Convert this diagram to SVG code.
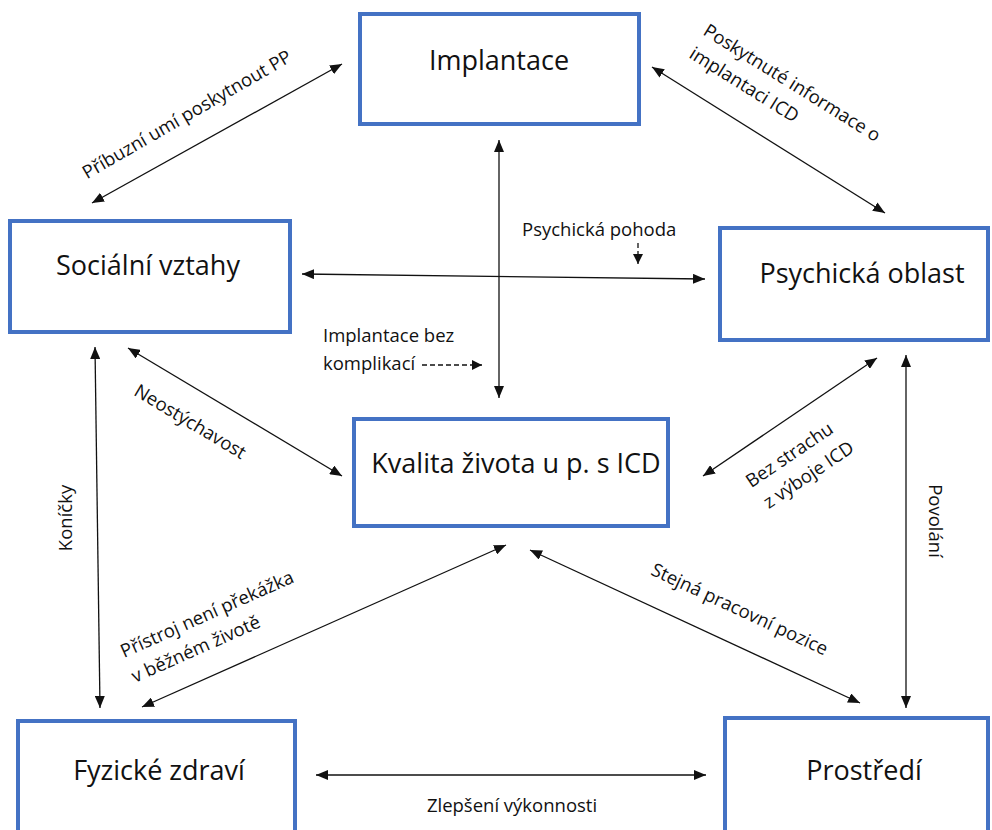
<svg xmlns="http://www.w3.org/2000/svg" width="992" height="830" viewBox="0 0 992 830">
<defs>
<style>
.box{fill:#fff;stroke:#4472C4;stroke-width:4}
.bt{font-family:"Open Sans","Liberation Sans",sans-serif;font-size:27px;fill:#111;text-anchor:middle}
.lb{font-family:"Open Sans","Liberation Sans",sans-serif;font-size:18.5px;fill:#111}
.c{fill:none;stroke:#111;stroke-width:1.3}
.d{fill:none;stroke:#111;stroke-width:1.3;stroke-dasharray:5,3}
</style>
<marker id="ah" viewBox="0 0 12 10" refX="12" refY="5" markerWidth="12" markerHeight="10" markerUnits="userSpaceOnUse" orient="auto-start-reverse">
<path d="M0,0 L12,5 L0,10 z" fill="#111"/>
</marker>
<marker id="ahs" viewBox="0 0 10 10" refX="10" refY="5" markerWidth="10" markerHeight="10" markerUnits="userSpaceOnUse" orient="auto">
<path d="M0,0 L10,5 L0,10 z" fill="#111"/>
</marker>
</defs>
<rect width="992" height="830" fill="#fff"/>

<g id="connectors">
<line class="c" x1="92" y1="203" x2="342" y2="64" marker-start="url(#ah)" marker-end="url(#ah)"/>
<line class="c" x1="652" y1="67" x2="885" y2="213" marker-start="url(#ah)" marker-end="url(#ah)"/>
<line class="c" x1="499" y1="140" x2="499" y2="398" marker-start="url(#ah)" marker-end="url(#ah)"/>
<line class="c" x1="302" y1="274" x2="705" y2="279" marker-start="url(#ah)" marker-end="url(#ah)"/>
<line class="c" x1="128" y1="348" x2="342" y2="476" marker-start="url(#ah)" marker-end="url(#ah)"/>
<line class="c" x1="95" y1="347" x2="100" y2="708" marker-start="url(#ah)" marker-end="url(#ah)"/>
<line class="c" x1="506" y1="545" x2="142" y2="707" marker-start="url(#ah)" marker-end="url(#ah)"/>
<line class="c" x1="877" y1="358" x2="703" y2="476" marker-start="url(#ah)" marker-end="url(#ah)"/>
<line class="c" x1="906" y1="355" x2="906" y2="708" marker-start="url(#ah)" marker-end="url(#ah)"/>
<line class="c" x1="530" y1="550" x2="860" y2="703" marker-start="url(#ah)" marker-end="url(#ah)"/>
<line class="c" x1="316" y1="775" x2="706" y2="775" marker-start="url(#ah)" marker-end="url(#ah)"/>
<line class="d" x1="638" y1="243" x2="638" y2="264" marker-end="url(#ahs)"/>
<line class="d" x1="422" y1="365" x2="482" y2="365" marker-end="url(#ahs)"/>

<text class="lb" text-anchor="middle" transform="translate(190,120) rotate(-30)">Příbuzní umí poskytnout PP</text>
<text class="lb" transform="translate(702,34) rotate(32)">Poskytnuté informace o</text>
<text class="lb" transform="translate(688,57) rotate(32)">implantaci ICD</text>
<text class="lb" x="522" y="236">Psychická pohoda</text>
<text class="lb" x="323" y="342">Implantace bez</text>
<text class="lb" x="323" y="370">komplikací</text>
<text class="lb" text-anchor="middle" transform="translate(187,427) rotate(31)">Neostýchavost</text>
<text class="lb" text-anchor="middle" transform="translate(72,518) rotate(-90)">Koníčky</text>
<text class="lb" text-anchor="middle" transform="translate(929,521) rotate(90)">Povolání</text>
<text class="lb" transform="translate(124,658) rotate(-24)">Přístroj není překážka</text>
<text class="lb" transform="translate(135,683) rotate(-24)">v běžném životě</text>
<text class="lb" text-anchor="middle" transform="translate(793,460) rotate(-34)">Bez strachu</text>
<text class="lb" text-anchor="middle" transform="translate(812,480) rotate(-34)">z výboje ICD</text>
<text class="lb" text-anchor="middle" transform="translate(737,615) rotate(25)">Stejná pracovní pozice</text>
<text class="lb" text-anchor="middle" x="512" y="812">Zlepšení výkonnosti</text>
</g>

<g id="implantace">
<rect class="box" x="360" y="14" width="279" height="110"/>
<text class="bt" x="499" y="70">Implantace</text>
</g>
<g id="socialni-vztahy">
<rect class="box" x="10" y="221" width="280" height="111"/>
<text class="bt" x="148" y="275">Sociální vztahy</text>
</g>
<g id="psychicka-oblast">
<rect class="box" x="720" y="228" width="268" height="112"/>
<text class="bt" x="862" y="283">Psychická oblast</text>
</g>
<g id="kvalita-zivota">
<rect class="box" x="354" y="419" width="314" height="107"/>
<text class="bt" x="516" y="473">Kvalita života u p. s ICD</text>
</g>
<g id="fyzicke-zdravi">
<rect class="box" x="18" y="721" width="277" height="125"/>
<text class="bt" x="159" y="780">Fyzické zdraví</text>
</g>
<g id="prostredi">
<rect class="box" x="725" y="718" width="263" height="128"/>
<text class="bt" x="864" y="780">Prostředí</text>
</g>
</svg>
